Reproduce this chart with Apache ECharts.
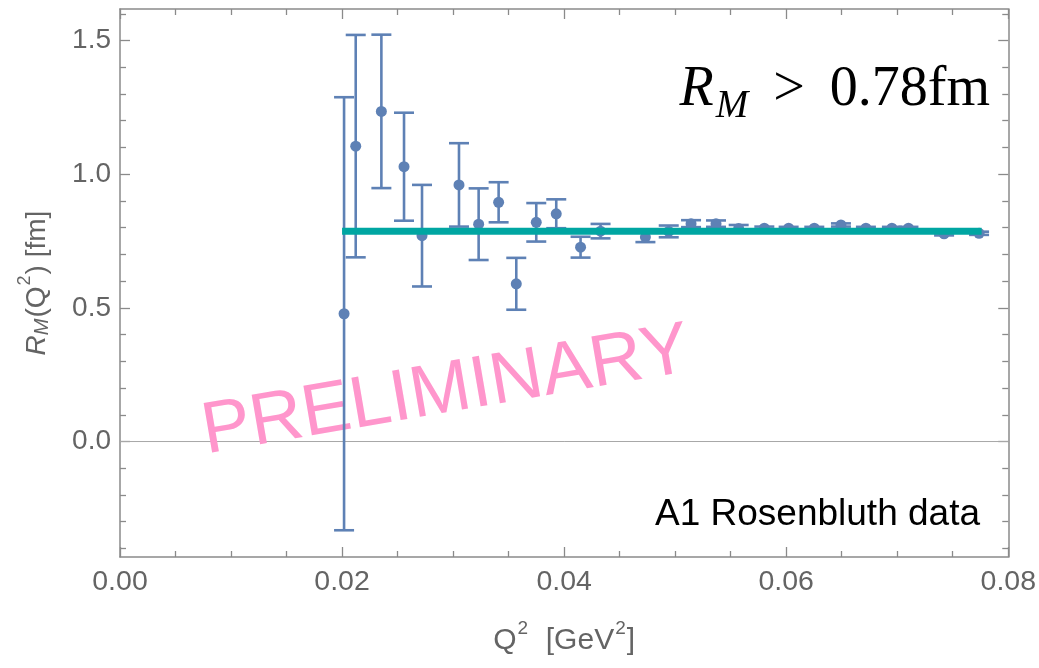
<!DOCTYPE html>
<html>
<head>
<meta charset="utf-8">
<title>R_M(Q²) – A1 Rosenbluth data</title>
<script src="https://cdn.jsdelivr.net/npm/echarts@6/dist/echarts.min.js"></script>
<style>
  html, body { margin: 0; padding: 0; background: #ffffff; }
  #chart { width: 1039px; height: 668px; }
</style>
</head>
<body>
<div id="chart"></div>
<script>
// Q^2 values [GeV^2] of the A1 Rosenbluth points
const qVals = [0.02018, 0.02123, 0.02354, 0.02558, 0.02720, 0.03053, 0.03230, 0.03410,
               0.03569, 0.03749, 0.03929, 0.04148, 0.04328, 0.04732, 0.04942, 0.05143,
               0.05368, 0.05572, 0.05803, 0.06022, 0.06253, 0.06493, 0.06718, 0.06952,
               0.07101, 0.07422, 0.07737];
// extracted radius R_M(Q^2) [fm]
const rVals = [0.478, 1.105, 1.235, 1.028, 0.770, 0.960, 0.813, 0.895,
               0.590, 0.820, 0.852, 0.727, 0.787, 0.765, 0.786, 0.815,
               0.815, 0.797, 0.798, 0.798, 0.798, 0.810, 0.798, 0.798,
               0.798, 0.777, 0.779];
// symmetric uncertainties [fm]
const rErr = [0.810, 0.416, 0.287, 0.202, 0.190, 0.156, 0.134, 0.075,
              0.097, 0.072, 0.054, 0.039, 0.027, 0.019, 0.022, 0.013,
              0.012, 0.013, 0.006, 0.005, 0.005, 0.006, 0.005, 0.005,
              0.005, 0.006, 0.006];
// constant fit over the data range
const fitQ = [0.0200, 0.0776];
const fitR = 0.787;

// axis ranges and tick values
const xRange = [0, 0.08];
const xStep = 0.02;
const yRange = [-0.432, 1.618];
const yMajor = [0, 0.5, 1.0, 1.5];
const yMinor = [-0.4, -0.3, -0.2, -0.1, 0.1, 0.2, 0.3, 0.4, 0.6, 0.7, 0.8, 0.9,
                1.1, 1.2, 1.3, 1.4, 1.6];

const pointColor = '#5e81b5';
const fitColor = '#00a6a2';
const frameColor = '#8a8a8a';
const labelColor = '#646464';
const sans = '"Liberation Sans", Arial, Helvetica, sans-serif';
const serif = '"Liberation Serif", "Times New Roman", serif';

const chart = echarts.init(document.getElementById('chart'), null, { renderer: 'canvas' });

const points = qVals.map((q, i) => [q, rVals[i], rErr[i]]);
const fitLine = fitQ.map(q => [q, fitR]);

function renderErrorBar(params, api) {
  const x = api.value(0), y = api.value(1), e = api.value(2);
  const top = api.coord([x, y + e]);
  const bot = api.coord([x, y - e]);
  const hw = 10;
  const style = { stroke: pointColor, lineWidth: 2.6 };
  return {
    type: 'group',
    children: [
      { type: 'line', shape: { x1: top[0], y1: top[1], x2: bot[0], y2: bot[1] }, style },
      { type: 'line', shape: { x1: top[0] - hw, y1: top[1], x2: top[0] + hw, y2: top[1] }, style },
      { type: 'line', shape: { x1: bot[0] - hw, y1: bot[1], x2: bot[0] + hw, y2: bot[1] }, style }
    ]
  };
}

const frameLine = { show: true, onZero: false, lineStyle: { color: frameColor, width: 1.5 } };

function xAxisCfg(position, withLabels) {
  return {
    type: 'value', position,
    min: xRange[0], max: xRange[1], interval: xStep,
    axisLine: frameLine,
    axisTick: { show: true, inside: true, length: 10, lineStyle: { color: frameColor, width: 1.3 } },
    minorTick: { show: true, splitNumber: 4, length: 6, lineStyle: { color: frameColor, width: 1.3 } },
    splitLine: { show: false },
    axisLabel: withLabels ? {
      show: true, margin: 11, fontSize: 28.5, color: labelColor, fontFamily: sans,
      formatter: v => v.toFixed(2)
    } : { show: false }
  };
}

function yAxisCfg(position, ticks, len, withLabels, withLine) {
  return {
    type: 'value', position,
    min: yRange[0], max: yRange[1],
    axisLine: withLine ? frameLine : { show: false, onZero: false },
    axisTick: { show: true, inside: true, length: len, customValues: ticks,
                lineStyle: { color: frameColor, width: 1.3 } },
    splitLine: { show: false },
    axisLabel: withLabels ? {
      show: true, margin: 9, fontSize: 28, color: labelColor, fontFamily: sans,
      customValues: yMajor, formatter: v => v.toFixed(1)
    } : { show: false }
  };
}

const xBottom = xAxisCfg('bottom', true);
xBottom.name = '{q|Q}{s|2}{q|  [GeV}{s|2}{q|]}';
xBottom.nameLocation = 'middle';
xBottom.nameGap = 62;
xBottom.nameTextStyle = {
  color: labelColor, fontFamily: sans,
  rich: {
    q: { fontSize: 30, lineHeight: 44, color: labelColor, fontFamily: sans },
    s: { fontSize: 19, lineHeight: 19, padding: [0, 1, 25, 1], color: labelColor, fontFamily: sans }
  }
};

const yLeft = yAxisCfg('left', yMajor, 10, true, true);
yLeft.name = '{r|R}{m|M}{t|(Q}{s|2}{t|) [fm]}';
yLeft.nameLocation = 'middle';
yLeft.nameRotate = 90;
yLeft.nameGap = 62;
yLeft.nameTextStyle = {
  color: labelColor, fontFamily: sans,
  rich: {
    r: { fontSize: 28, lineHeight: 42, fontStyle: 'italic', color: labelColor, fontFamily: sans },
    m: { fontSize: 20, lineHeight: 20, padding: [16, 1, 6, 0], fontStyle: 'italic', color: labelColor, fontFamily: sans },
    t: { fontSize: 28, lineHeight: 42, color: labelColor, fontFamily: sans },
    s: { fontSize: 18, lineHeight: 18, padding: [0, 1, 24, 1], color: labelColor, fontFamily: sans }
  }
};

const option = {
  backgroundColor: '#ffffff',
  animation: false,
  grid: { left: 120, top: 9, width: 889, height: 550, containLabel: false },
  xAxis: [xBottom, xAxisCfg('top', false)],
  yAxis: [
    yLeft,
    yAxisCfg('right', yMajor, 10, false, true),
    yAxisCfg('left', yMinor, 6, false, false),
    yAxisCfg('right', yMinor, 6, false, false)
  ],
  graphic: [
    {
      type: 'text', z: 1.5, x: 446, y: 392, rotation: 9.7 * Math.PI / 180,
      style: {
        text: 'PRELIMINARY', fill: '#ff96cc',
        font: '73px ' + sans, align: 'center', verticalAlign: 'middle'
      }
    },
    {
      type: 'text', z: 10, x: 990, y: 90,
      style: {
        text: '{r|R}{m|M}{g|>}{n|0.78fm}',
        align: 'right', verticalAlign: 'middle',
        rich: {
          r: { fontSize: 56, lineHeight: 80, fontStyle: 'italic', fontFamily: serif, fill: '#000' },
          m: { fontSize: 39, lineHeight: 39, padding: [37, 0, 4, 2], fontStyle: 'italic', fontFamily: serif, fill: '#000' },
          g: { fontSize: 56, lineHeight: 80, padding: [0, 25, 0, 25], fontFamily: serif, fill: '#000' },
          n: { fontSize: 56, lineHeight: 80, fontFamily: serif, fill: '#000' }
        }
      }
    },
    {
      type: 'text', z: 10, x: 980, y: 515,
      style: {
        text: 'A1 Rosenbluth data', fill: '#000',
        font: '37px ' + sans, align: 'right', verticalAlign: 'middle'
      }
    }
  ],
  series: [
    {
      // horizontal axis line at R = 0
      type: 'line', z: 1, silent: true, symbol: 'none',
      data: [[xRange[0], 0], [xRange[1], 0]],
      lineStyle: { color: '#a8a8a8', width: 1 }
    },
    {
      type: 'custom', z: 3, silent: true,
      renderItem: renderErrorBar,
      data: points,
      encode: { x: 0, y: 1 }
    },
    {
      type: 'scatter', z: 4, silent: true,
      symbol: 'circle', symbolSize: 11,
      itemStyle: { color: pointColor, opacity: 1 },
      data: points.map(p => [p[0], p[1]])
    },
    {
      type: 'line', z: 5, silent: true, symbol: 'none',
      data: fitLine,
      lineStyle: { color: fitColor, width: 7 }
    }
  ]
};

chart.setOption(option);
</script>
</body>
</html>
